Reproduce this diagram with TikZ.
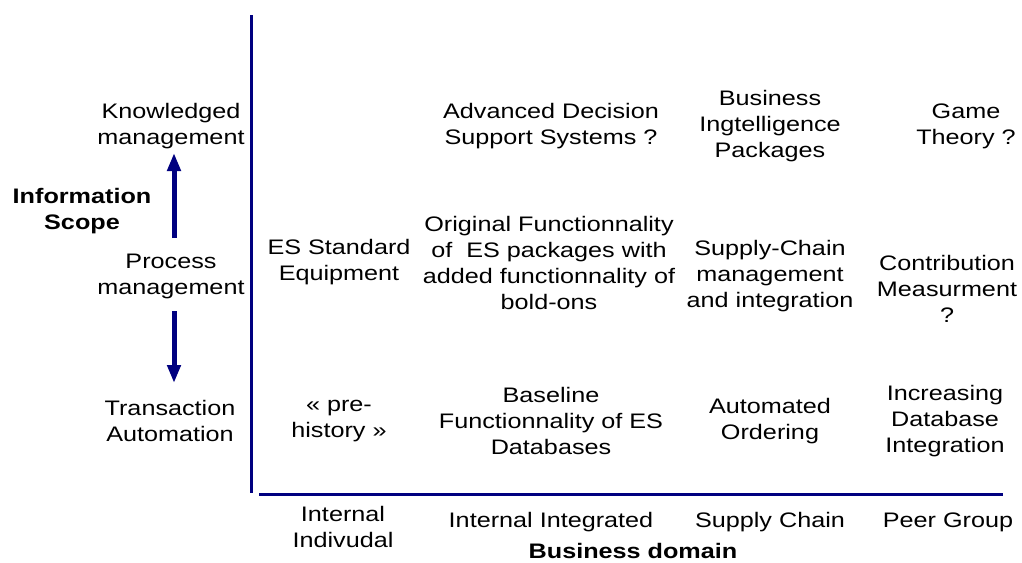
\documentclass[tikz,border=0pt]{standalone}
\usepackage{fontspec}
\setmainfont[FakeStretch=1.2]{Liberation Sans}
\usetikzlibrary{arrows.meta}
\definecolor{axisnavy}{RGB}{0,0,128}
\tikzset{
  lbl/.style={align=center, inner sep=0pt, font=\fontsize{21pt}{26pt}\selectfont},
  blbl/.style={lbl, font=\fontsize{21pt}{26pt}\selectfont\bfseries},
  axis/.style={draw=axisnavy, line width=3pt},
  scopearrow/.style={draw=axisnavy, line width=5pt, -{Triangle[width=13pt,length=18pt]}}
}
\begin{document}
\begin{tikzpicture}[x=1pt,y=-1pt]
\useasboundingbox (0,0) rectangle (1022,562);
% axes
\coordinate (vtop) at (251,15);
\coordinate (vbot) at (251,493);
\coordinate (hleft) at (259,494);
\coordinate (hright) at (1003,494);
\draw[axis] (vtop) -- (vbot);
\draw[axis] (hleft) -- (hright);
% left labels
\node[lbl] (km) at (171,126) {Knowledged\\management};
\node[blbl] (is) at (82,211) {Information\\Scope};
\node[lbl] (pm) at (171,276) {Process\\management};
\node[lbl] (ta) at (170,421) {Transaction\\Automation};
% arrows
\coordinate (upstart) at (174,238);
\coordinate (upend) at (174,153);
\coordinate (dnstart) at (174,311);
\coordinate (dnend) at (174,383);
\draw[scopearrow] (upstart) -- (upend);
\draw[scopearrow] (dnstart) -- (dnend);
% top row
\node[lbl] (adss) at (551,126) {Advanced Decision\\Support Systems ?};
\node[lbl] (bip) at (770,126) {Business\\Ingtelligence\\Packages};
\node[lbl] (gt) at (966,126) {Game\\Theory ?};
% middle row
\node[lbl] (ese) at (339,262) {ES Standard\\Equipment};
\node[lbl] (ofes) at (549,263) {Original Functionnality\\of\ \ ES packages with\\added functionnality of\\bold-ons};
\node[lbl] (scm) at (770,276) {Supply-Chain\\management\\and integration};
\node[lbl] (cm) at (947,289) {Contribution\\Measurment\\?};
% bottom row
\node[lbl] (ph) at (339,421) {« pre-\\history »};
\node[lbl] (bfes) at (551,421) {Baseline\\Functionnality of ES\\Databases};
\node[lbl] (ao) at (770,421) {Automated\\Ordering};
\node[lbl] (idi) at (945,421) {Increasing\\Database\\Integration};
% horizontal axis labels
\node[lbl] (ii) at (343,527) {Internal\\Indivudal};
\node[lbl] (iint) at (551,522) {Internal Integrated};
\node[lbl] (sc) at (770,522) {Supply Chain};
\node[lbl] (pg) at (948,522) {Peer Group};
\node[blbl] (bd) at (633,551) {Business domain};
\end{tikzpicture}
\end{document}
